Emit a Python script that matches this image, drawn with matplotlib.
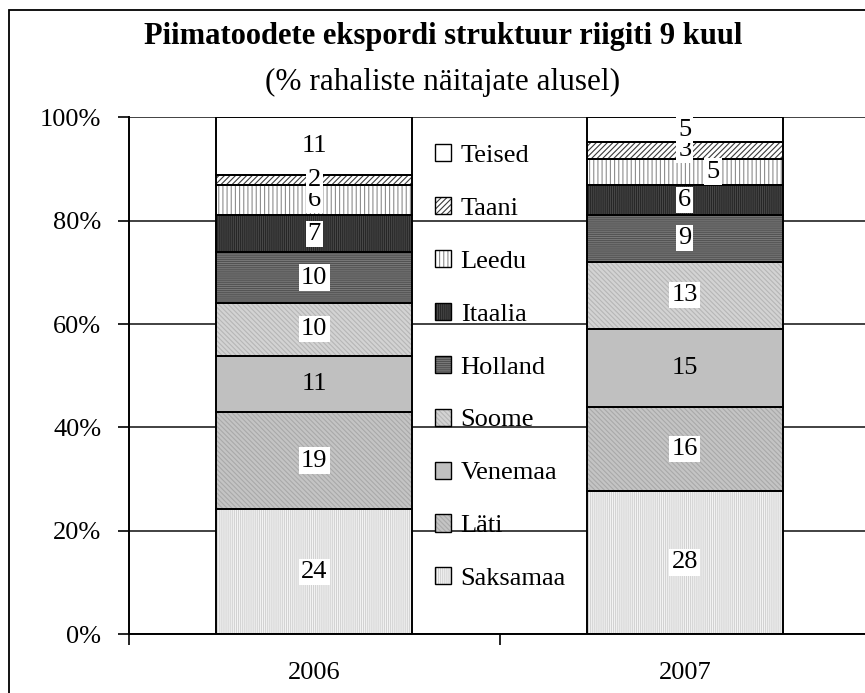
import matplotlib
matplotlib.use('Agg')
import matplotlib.pyplot as plt
from matplotlib.patches import Rectangle, Patch
import numpy as np

years = ['2006', '2007']
countries = ['Saksamaa', 'Läti', 'Venemaa', 'Soome', 'Holland', 'Itaalia', 'Leedu', 'Taani', 'Teised']
share_2006 = [24.2, 18.8, 10.9, 10.2, 9.8, 7.2, 5.9, 1.9, 11.1]
share_2007 = [27.8, 16.1, 15.2, 13.0, 9.0, 5.9, 5.0, 3.2, 4.8]
title = 'Piimatoodete ekspordi struktuur riigiti 9 kuul'
subtitle = '(% rahaliste näitajate alusel)'
yticks = [0, 20, 40, 60, 80, 100]

plt.rcParams['font.family'] = ['Liberation Serif', 'DejaVu Serif']
plt.rcParams['hatch.linewidth'] = 0.8

styles = [
    dict(face='#f6f6f6', hatch='|' * 8, hc='#d2d2d2'),   # Saksamaa
    dict(face='#c4c4c4', hatch='\\' * 7, hc='#a9a9a9'),  # Läti
    dict(face='#c0c0c0', hatch='', hc='#c0c0c0'),        # Venemaa
    dict(face='#d3d3d3', hatch='\\' * 7, hc='#b6b6b6'),  # Soome
    dict(face='#7a7a7a', hatch='-' * 8, hc='#525252'),   # Holland
    dict(face='#4a4a4a', hatch='|' * 8, hc='#262626'),   # Itaalia
    dict(face='#ffffff', hatch='|' * 4, hc='#8c8c8c'),   # Leedu
    dict(face='#ffffff', hatch='/' * 6, hc='#3a3a3a'),   # Taani
    dict(face='#ffffff', hatch='', hc='#ffffff'),        # Teised
]

FS = 19
W, H = 865, 693
fig = plt.figure(figsize=(W / 100, H / 100), dpi=100)
ax = fig.add_axes([129 / W, (H - 634.3) / H, 741 / W, 517 / H])

x = np.arange(len(years))
width = 0.53
data = np.array([share_2006, share_2007])
bottoms = np.zeros(len(years))
handles = []
label_items = []
for i, c in enumerate(countries):
    vals = data[:, i]
    st = styles[i]
    ax.bar(x, vals, width, bottom=bottoms, color=st['face'], edgecolor=st['hc'],
           hatch=st['hatch'], linewidth=0, zorder=2)
    ax.bar(x, vals, width, bottom=bottoms, fill=False, edgecolor='black',
           linewidth=1.4, zorder=3)
    p1 = Patch(facecolor=st['face'], edgecolor=st['hc'], hatch=st['hatch'], linewidth=0)
    p2 = Patch(fill=False, edgecolor='black', linewidth=1.0)
    handles.append((p1, p2))
    for j in range(len(years)):
        label_items.append((i, j, bottoms[j] + vals[j] / 2, vals[j]))
    bottoms = bottoms + vals

for (i, j, yc, v) in label_items:
    dx = 0.0
    if countries[i] == 'Leedu' and years[j] == '2007':
        dx = 0.076
    bbox = None if countries[i] == 'Venemaa' else dict(facecolor='white', edgecolor='none', pad=1.5)
    ax.text(x[j] + dx, yc, f'{round(v)}', ha='center', va='center', fontsize=FS,
            bbox=bbox, zorder=5)

ax.set_xlim(-0.5, 1.5)
ax.set_ylim(0, 100)
ax.set_yticks(yticks)
ax.set_yticklabels([f'{v}%' for v in yticks])
ax.set_xticks(x)
ax.set_xticklabels(years)
ax.set_xticks([-0.5, 0.5, 1.5], minor=True)
ax.tick_params(axis='x', which='major', length=0, pad=20, labelsize=FS)
ax.tick_params(axis='x', which='minor', length=8, width=1.2, direction='out')
ax.tick_params(axis='y', length=8, width=1.2, direction='out', pad=12, labelsize=FS)
ax.yaxis.grid(True, color='#333333', linewidth=1.3)
ax.set_axisbelow(True)
for s in ['top', 'right']:
    ax.spines[s].set_visible(False)
for s in ['left', 'bottom']:
    ax.spines[s].set_linewidth(1.4)
    ax.spines[s].set_color('black')

leg = fig.legend(handles[::-1], countries[::-1], loc='upper left',
                 bbox_to_anchor=(435 / W, 1 - 144 / H), frameon=False,
                 fontsize=FS, handlelength=0.62, handleheight=0.62,
                 handletextpad=0.35, labelspacing=1.14, borderpad=0, borderaxespad=0)

fig.text(443 / W, 1 - 44 / H, title, ha='center', va='baseline', fontsize=22, fontweight='bold')
fig.text(443 / W, 1 - 90 / H, subtitle, ha='center', va='baseline', fontsize=22.5)

fig.add_artist(Rectangle((9 / W, -0.1), 1.2, (1 - 10 / H) + 0.1, transform=fig.transFigure,
                         fill=False, edgecolor='black', linewidth=1.3))

fig.savefig('out.png', dpi=100)
